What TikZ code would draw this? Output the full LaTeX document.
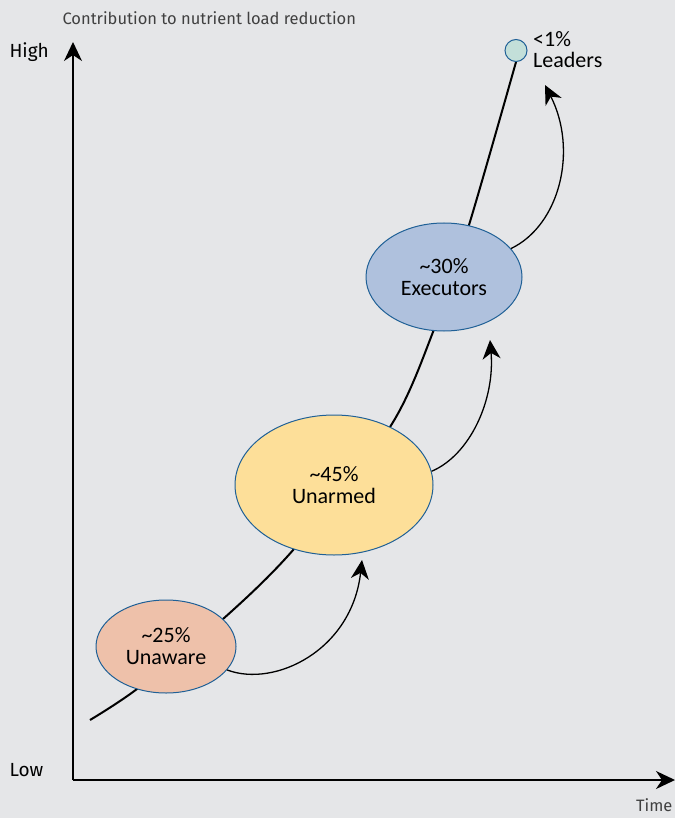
\documentclass[tikz,border=0pt]{standalone}
\usepackage{fontspec}
\setmainfont{Carlito}
\newfontfamily\axisfont{Fira Sans}
\usetikzlibrary{arrows.meta,shapes.geometric,backgrounds}

\definecolor{bgray}{HTML}{E5E6E8}
\definecolor{rimblue}{HTML}{1F6096}
\definecolor{unawarefill}{HTML}{EEC1AA}
\definecolor{unarmedfill}{HTML}{FDDF99}
\definecolor{executorfill}{HTML}{AFC1DD}
\definecolor{leaderfill}{HTML}{C3DFD9}

\tikzset{
  group/.style={ellipse,draw=rimblue,line width=1pt,align=center,
    inner sep=0pt,font=\fontsize{22}{22}\selectfont},
  axislabel/.style={font=\axisfont\fontsize{19}{19}\selectfont},
  axistitle/.style={font=\axisfont\fontsize{16.5}{16.5}\selectfont,text=black!75},
  growth/.style={-{Stealth[length=19pt,width=18pt,inset=6pt]},line width=1.3pt},
}

\begin{document}
\begin{tikzpicture}[x=1pt,y=-1pt]
			\useasboundingbox (0,0) rectangle (675,818);

			% Groups
			\node[group,fill=unawarefill,minimum width=140pt,minimum height=93pt] (unaware) at (166,646.5) {\textasciitilde25\%\\Unaware};
			\node[group,fill=unarmedfill,minimum width=198pt,minimum height=140pt] (unarmed) at (334,485) {\textasciitilde45\%\\Unarmed};
			\node[group,fill=executorfill,minimum width=156pt,minimum height=108pt] (executors) at (444,277) {\textasciitilde30\%\\Executors};
			\node[circle,draw=rimblue,line width=1pt,fill=leaderfill,minimum size=22pt,inner sep=0pt] (leaders) at (516,50.5) {};
			\node[anchor=north west,align=left,inner sep=0pt,font=\fontsize{22}{21}\selectfont] (leaderstext) at (533,31) {<1\%\\Leaders};

			% Background and growth curve behind the groups
			\begin{pgfonlayer}{background}
				\fill[bgray] (0,0) rectangle (675,818);
				\draw[line width=2pt] plot[smooth] coordinates {(90,720) (137,689) (223,619) (294,549) (390,427) (433,332) (469,225) (leaders.south)};
			\end{pgfonlayer}

			% Moving up
			\coordinate (tipA) at (362,560);
			\coordinate (tipB) at (490,340);
			\coordinate (tipC) at (545,85);
			\draw[growth] (unaware.-21) .. controls (275,688) and (352,650) .. (tipA);
			\draw[growth] (unarmed.8) .. controls (470,455) and (495,400) .. (tipB);
			\draw[growth] (executors.23) .. controls (560,225) and (578,150) .. (tipC);

			% Axes
			\coordinate (origin) at (73,780);
			\coordinate (ytop) at (73,42);
			\coordinate (xend) at (675,780);
			\draw[growth] (origin) -- (ytop);
			\draw[growth] (origin) -- (xend);
			\node[axislabel,anchor=west] (high) at (6,52) {High};
			\node[axislabel,anchor=west] (low) at (6,770) {Low};
			\node[axistitle,anchor=east] (time) at (676,805) {Time};
			\node[axistitle,anchor=west] (ylabel) at (59,18) {Contribution to nutrient load reduction};
\end{tikzpicture}
\end{document}
